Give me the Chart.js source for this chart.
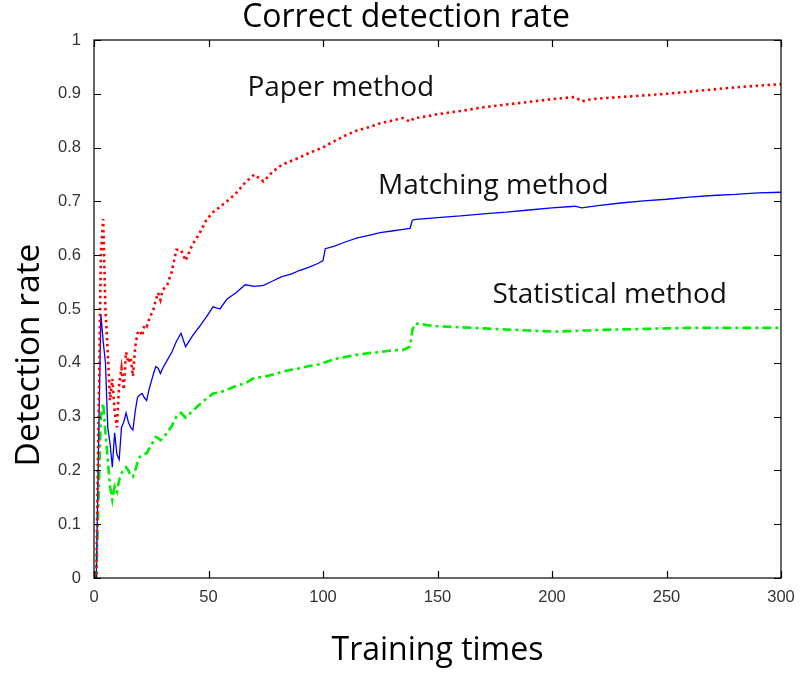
<!DOCTYPE html>
<html>
<head>
<meta charset="utf-8">
<script src="https://cdn.jsdelivr.net/npm/chart.js@4.4.1/dist/chart.umd.min.js"></script>
<style>
html,body{margin:0;padding:0;background:#fff;}
#wrap{width:800px;height:675px;}
</style>
</head>
<body>
<div id="wrap"><canvas id="c" width="800" height="675"></canvas></div>
<script>
const chartTitle = "Correct detection rate";
const xAxisTitle = "Training times";
const yAxisTitle = "Detection rate";
const xTicks = [0, 50, 100, 150, 200, 250, 300];
const yTicks = [0, 0.1, 0.2, 0.3, 0.4, 0.5, 0.6, 0.7, 0.8, 0.9, 1];
const seriesNames = ["Paper method", "Matching method", "Statistical method"];

const xs = [0,1,2,3,4,5,6,7,8,9,10,11,12,13,14,15,16,17,18,19,20,21,22,23,24,25,26,27,28,29,30,32,34,36,38,40,43,46,49,52,55,58,62,66,70,74,78,82,86,90,94,98,100,101,105,110,115,120,125,130,135,138,139,140,142,145,150,160,170,180,190,200,210,213,216,220,230,240,250,260,270,280,290,300];

const paperMethod = [0,0,0.30,0.60,0.667,0.50,0.42,0.33,0.37,0.31,0.28,0.36,0.39,0.35,0.42,0.40,0.41,0.375,0.43,0.455,0.46,0.45,0.47,0.467,0.48,0.49,0.50,0.517,0.53,0.517,0.535,0.545,0.57,0.61,0.61,0.59,0.62,0.64,0.665,0.68,0.69,0.70,0.715,0.735,0.75,0.737,0.755,0.768,0.775,0.782,0.79,0.797,0.80,0.803,0.812,0.823,0.832,0.838,0.845,0.85,0.855,0.848,0.852,0.855,0.856,0.858,0.862,0.868,0.875,0.88,0.885,0.89,0.894,0.886,0.889,0.891,0.894,0.897,0.90,0.904,0.908,0.912,0.915,0.918];

const matchingMethod = [0,0,0.25,0.49,0.44,0.40,0.28,0.25,0.206,0.27,0.23,0.22,0.28,0.29,0.307,0.29,0.28,0.275,0.31,0.336,0.34,0.343,0.335,0.33,0.35,0.365,0.38,0.393,0.39,0.38,0.39,0.405,0.42,0.44,0.455,0.43,0.45,0.467,0.485,0.504,0.50,0.518,0.53,0.545,0.542,0.544,0.552,0.56,0.565,0.572,0.578,0.585,0.59,0.612,0.617,0.625,0.632,0.637,0.642,0.645,0.648,0.65,0.665,0.666,0.667,0.668,0.67,0.673,0.677,0.68,0.684,0.688,0.691,0.688,0.69,0.692,0.697,0.701,0.704,0.708,0.711,0.713,0.716,0.717];

const statisticalMethod = [0,0,0.15,0.30,0.325,0.27,0.22,0.17,0.145,0.17,0.16,0.182,0.195,0.20,0.206,0.20,0.19,0.188,0.20,0.215,0.225,0.228,0.23,0.232,0.24,0.245,0.255,0.262,0.26,0.256,0.26,0.27,0.283,0.30,0.307,0.298,0.31,0.322,0.333,0.343,0.345,0.35,0.357,0.362,0.372,0.374,0.378,0.383,0.387,0.39,0.394,0.397,0.40,0.401,0.407,0.411,0.415,0.418,0.42,0.423,0.424,0.43,0.46,0.472,0.473,0.47,0.468,0.466,0.464,0.462,0.46,0.458,0.459,0.46,0.46,0.461,0.462,0.463,0.464,0.465,0.465,0.465,0.465,0.465];

// label anchors (data coordinates): [x, y]
const labelAnchors = [[67, 0.911], [124, 0.729], [174, 0.526]];

const toPts = arr => xs.map((x, i) => ({x: x, y: arr[i]}));

const frame = {
  id: 'frame',
  afterDraw(chart) {
    const ctx = chart.ctx;
    const a = chart.chartArea;
    const sx = chart.scales.x, sy = chart.scales.y;
    ctx.save();
    ctx.strokeStyle = '#000';
    ctx.lineWidth = 1.2;
    ctx.strokeRect(a.left, a.top, a.right - a.left, a.bottom - a.top);
    const L = 7;
    ctx.beginPath();
    xTicks.forEach(v => {
      const p = Math.round(sx.getPixelForValue(v)) + 0.5;
      ctx.moveTo(p, a.bottom); ctx.lineTo(p, a.bottom - L);
      ctx.moveTo(p, a.top); ctx.lineTo(p, a.top + L);
    });
    yTicks.forEach(v => {
      const p = Math.round(sy.getPixelForValue(v)) + 0.5;
      ctx.moveTo(a.left, p); ctx.lineTo(a.left + L, p);
      ctx.moveTo(a.right, p); ctx.lineTo(a.right - L, p);
    });
    ctx.stroke();
    // title
    ctx.fillStyle = '#000';
    ctx.font = '32px "Open Sans"';
    ctx.textAlign = 'center';
    ctx.textBaseline = 'middle';
    ctx.fillText(chartTitle, 406, 18);
    // y axis title
    ctx.save();
    ctx.translate(29, 355);
    ctx.rotate(-Math.PI / 2);
    ctx.font = '33.5px "Open Sans"';
    ctx.fillText(yAxisTitle, 0, 0);
    ctx.restore();
    // series labels
    ctx.font = '28px "Open Sans"';
    ctx.textAlign = 'left';
    ctx.fillStyle = '#111';
    labelAnchors.forEach((p, i) => {
      ctx.fillText(seriesNames[i], sx.getPixelForValue(p[0]), sy.getPixelForValue(p[1]));
    });
    ctx.restore();
  }
};

new Chart(document.getElementById('c'), {
  type: 'line',
  data: {
    datasets: [
      {label: seriesNames[0], data: toPts(paperMethod), borderColor: '#ff0000', borderWidth: 2.6, borderDash: [2.5, 3.5], pointRadius: 0, tension: 0},
      {label: seriesNames[1], data: toPts(matchingMethod), borderColor: '#0000ff', borderWidth: 1.3, pointRadius: 0, tension: 0},
      {label: seriesNames[2], data: toPts(statisticalMethod), borderColor: '#00ee00', borderWidth: 2.6, borderDash: [9, 4, 3, 4], pointRadius: 0, tension: 0}
    ]
  },
  options: {
    responsive: false,
    animation: false,
    layout: {padding: {top: 40, right: 19, left: 0, bottom: 0}},
    plugins: {legend: {display: false}, tooltip: {enabled: false}, title: {display: false}},
    scales: {
      x: {
        type: 'linear', min: 0, max: 300,
        afterBuildTicks: s => { s.ticks = xTicks.map(v => ({value: v})); },
        afterFit: s => { s.height = 97; s.paddingRight = 0; s.paddingLeft = 0; },
        grid: {display: false, drawTicks: false},
        border: {display: false},
        ticks: {color: '#333', font: {family: 'Liberation Sans', size: 16.5}, padding: 10, maxRotation: 0, callback: v => String(v)},
        title: {display: true, text: xAxisTitle, color: '#000', font: {family: 'Open Sans', size: 32}, padding: {top: 0, bottom: 5}}
      },
      y: {
        type: 'linear', min: 0, max: 1,
        afterBuildTicks: s => { s.ticks = yTicks.map(v => ({value: v})); },
        afterFit: s => { s.width = 94; },
        grid: {display: false, drawTicks: false},
        border: {display: false},
        ticks: {color: '#333', font: {family: 'Liberation Sans', size: 16.5}, padding: 13, callback: v => String(v)},
        title: {display: false}
      }
    }
  },
  plugins: [frame]
});
</script>
</body>
</html>
